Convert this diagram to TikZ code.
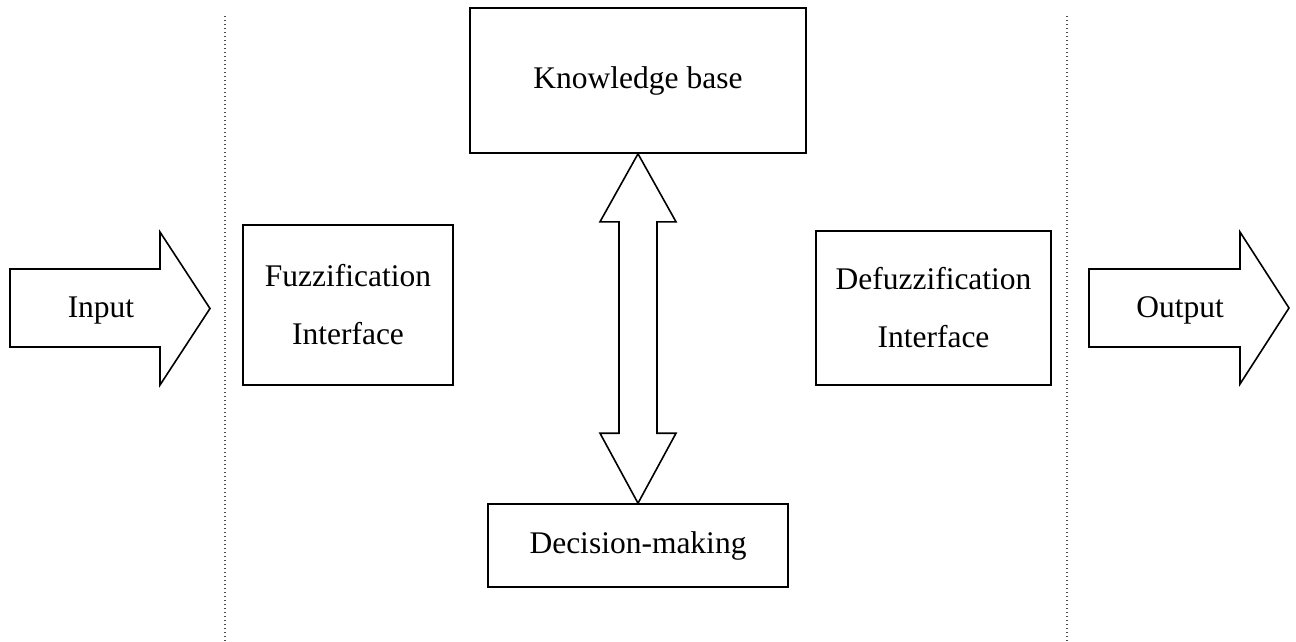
\documentclass[tikz,border=0pt]{standalone}
\usepackage{fontspec}
\setmainfont{Liberation Serif}
\usetikzlibrary{calc}
\begin{document}
\begin{tikzpicture}[x=1pt,y=-1pt,
  every node/.style={font=\fontsize{31.5}{58}\selectfont},
  box/.style={draw,line width=1.6pt,align=center,inner sep=0pt},
  fat/.style={draw,line width=1.6pt,line join=miter},
  sep/.style={draw=black!70,line width=1.2pt,dash pattern=on 1.2pt off 2.8pt}]
\useasboundingbox (0,0) rectangle (1296,641);
% separators
\draw[sep] (225,16) -- (225,641);
\draw[sep] (1067,16) -- (1067,641);
% input arrow
\draw[fat] (10,269) -- (160,269) -- (160,232) -- (210,308.5) -- (160,385) -- (160,347) -- (10,347) -- cycle;
\node[anchor=base] (in) at (101,317) {Input};
% output arrow
\draw[fat] (1089,269) -- (1240,269) -- (1240,232) -- (1289,308) -- (1240,384) -- (1240,347) -- (1089,347) -- cycle;
\node[anchor=base] (out) at (1180,317) {Output};
% boxes
\node[box,minimum width=210pt,minimum height=160pt] (fuz) at (348,305) {Fuzzification\\Interface};
\node[box,minimum width=336pt,minimum height=145pt] (kb) at (638,80.5) {Knowledge base};
\node[box,minimum width=300pt,minimum height=83pt] (dm) at (638,545.5) {Decision-making};
\node[box,minimum width=235pt,minimum height=154pt] (def) at (933.5,308) {Defuzzification\\Interface};
% double arrow
\draw[fat] (kb.south) -- ($(kb.south)+(38,68)$) -- ($(kb.south)+(19,68)$)
  -- ($(dm.north)+(19,-70)$) -- ($(dm.north)+(38,-70)$) -- (dm.north)
  -- ($(dm.north)+(-38,-70)$) -- ($(dm.north)+(-19,-70)$)
  -- ($(kb.south)+(-19,68)$) -- ($(kb.south)+(-38,68)$) -- cycle;
\end{tikzpicture}
\end{document}
